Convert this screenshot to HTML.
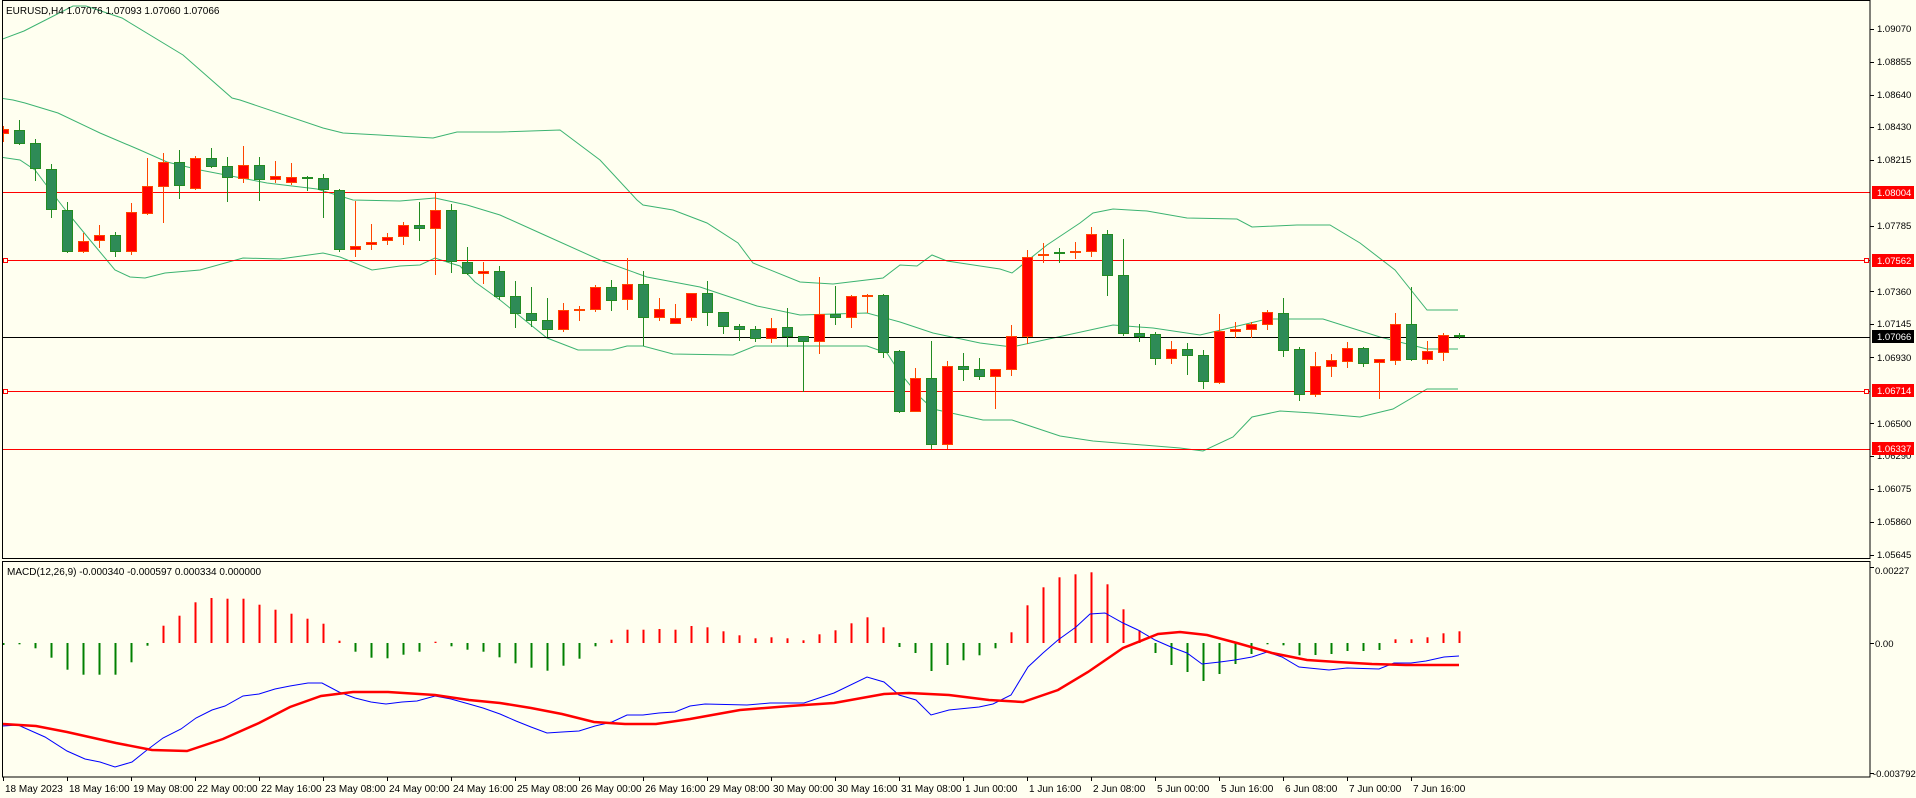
<!DOCTYPE html>
<html><head><meta charset="utf-8"><style>
html,body{margin:0;padding:0;background:#fffff0;}
svg{display:block;}
text{font-family:"Liberation Sans",sans-serif;font-size:10px;fill:#000;}
text.r{font-size:9.5px;}
</style></head><body>
<svg id="s" width="1916" height="798" viewBox="0 0 1916 798" xmlns="http://www.w3.org/2000/svg">
<rect width="1916" height="798" fill="#fffff0"/>
<defs><clipPath id="cm"><rect x="3" y="1" width="1867" height="557"/></clipPath>
<clipPath id="cd"><rect x="3" y="562" width="1867" height="215"/></clipPath></defs>
<g id="main" clip-path="url(#cm)"></g>
<g id="macd" clip-path="url(#cd)"></g>
<rect x="2.5" y="0.5" width="1867.5" height="558" fill="none" stroke="#000" stroke-width="1"/>
<rect x="2.5" y="561.5" width="1867.5" height="215.5" fill="none" stroke="#000" stroke-width="1"/>
<g id="ticks" stroke="#000" stroke-width="1"></g>
<text x="6" y="14">EURUSD,H4  1.07076 1.07093 1.07060 1.07066</text>
<text x="7" y="575">MACD(12,26,9) -0.000340 -0.000597 0.000334 0.000000</text>
<g>
<text class="r" x="1877" y="32">1.09070</text>
<text class="r" x="1877" y="65">1.08855</text>
<text class="r" x="1877" y="98">1.08640</text>
<text class="r" x="1877" y="130">1.08430</text>
<text class="r" x="1877" y="163">1.08215</text>
<text class="r" x="1877" y="229">1.07785</text>
<text class="r" x="1877" y="295">1.07360</text>
<text class="r" x="1877" y="327">1.07145</text>
<text class="r" x="1877" y="361">1.06930</text>
<text class="r" x="1877" y="427">1.06500</text>
<text class="r" x="1877" y="459">1.06290</text>
<text class="r" x="1877" y="492">1.06075</text>
<text class="r" x="1877" y="525">1.05860</text>
<text class="r" x="1877" y="558">1.05645</text>
<rect x="1872" y="186" width="42" height="13" fill="#ff0000"/><text class="r" x="1877" y="196" style="fill:#fff">1.08004</text>
<rect x="1872" y="254" width="42" height="13" fill="#ff0000"/><text class="r" x="1877" y="264" style="fill:#fff">1.07562</text>
<rect x="1872" y="330" width="42" height="13" fill="#000"/><text class="r" x="1877" y="340" style="fill:#fff">1.07066</text>
<rect x="1872" y="384" width="42" height="13" fill="#ff0000"/><text class="r" x="1877" y="394" style="fill:#fff">1.06714</text>
<rect x="1872" y="442" width="42" height="13" fill="#ff0000"/><text class="r" x="1877" y="452" style="fill:#fff">1.06337</text>
<text class="r" x="1875" y="574">0.00227</text>
<text class="r" x="1875" y="647">0.00</text>
<text class="r" x="1873" y="777">-0.003792</text>
</g>
<g>
<text x="5" y="792">18 May 2023</text>
<text x="69" y="792">18 May 16:00</text>
<text x="133" y="792">19 May 08:00</text>
<text x="197" y="792">22 May 00:00</text>
<text x="261" y="792">22 May 16:00</text>
<text x="325" y="792">23 May 08:00</text>
<text x="389" y="792">24 May 00:00</text>
<text x="453" y="792">24 May 16:00</text>
<text x="517" y="792">25 May 08:00</text>
<text x="581" y="792">26 May 00:00</text>
<text x="645" y="792">26 May 16:00</text>
<text x="709" y="792">29 May 08:00</text>
<text x="773" y="792">30 May 00:00</text>
<text x="837" y="792">30 May 16:00</text>
<text x="901" y="792">31 May 08:00</text>
<text x="965" y="792">1 Jun 00:00</text>
<text x="1029" y="792">1 Jun 16:00</text>
<text x="1093" y="792">2 Jun 08:00</text>
<text x="1157" y="792">5 Jun 00:00</text>
<text x="1221" y="792">5 Jun 16:00</text>
<text x="1285" y="792">6 Jun 08:00</text>
<text x="1349" y="792">7 Jun 00:00</text>
<text x="1413" y="792">7 Jun 16:00</text>
</g>
</svg>
<script>
var NS="http://www.w3.org/2000/svg";
function el(p,t,a){var e=document.createElementNS(NS,t);for(var k in a)e.setAttribute(k,a[k]);p.appendChild(e);return e;}
var M=document.getElementById("main"),D=document.getElementById("macd"),T=document.getElementById("ticks");
function X(i){return 3.3+16*i;}
function pl(g,pts,c,w){el(g,"polyline",{points:pts,fill:"none",stroke:c,"stroke-width":w});}
var up="0,40 24,31 73,6 86,6 122,18 183,55 232,98 240,100 323,128 343,133 433,138 457,132 500,132 560,130 600,160 637,200 643,205 673,210 707,223 738,243 753,263 800,282 833,284 883,278 900,265 917,266 932,255 947,261 1000,269 1012,273 1047,245 1080,223 1093,213 1113,209 1147,211 1187,218 1237,219 1252,227 1297,225 1330,225 1360,243 1395,270 1427,310 1458,310";
var mid="0,98 13,100 25,103 58,113 100,133 140,150 167,162 200,170 267,183 317,189 353,200 400,201 435,198 467,205 500,215 540,233 600,260 647,277 700,287 757,306 800,315 867,313 900,322 933,333 980,343 1012,347 1058,337 1113,325 1153,328 1200,335 1267,319 1323,319 1380,337 1427,349 1458,349";
var lo="0,157 20,160 35,170 50,190 67,212 90,240 115,270 130,277 145,278 165,273 200,270 243,258 280,259 323,253 340,257 372,270 400,266 420,265 435,258 450,263 460,266 475,282 500,300 547,338 578,350 612,350 627,346 643,346 673,354 733,355 755,346 867,346 887,353 900,373 920,397 933,409 983,420 1012,420 1060,436 1093,441 1180,448 1203,451 1233,437 1252,417 1280,411 1313,413 1360,417 1393,409 1427,389 1458,389";
pl(M,up,"#3cb371",1);pl(M,mid,"#3cb371",1);pl(M,lo,"#3cb371",1);
[[192.5,"#ff0000"],[260.5,"#ff0000"],[391.5,"#ff0000"],[449.5,"#ff0000"],[337.5,"#000"]].forEach(function(h){el(M,"line",{x1:0,x2:1870,y1:h[0],y2:h[0],stroke:h[1],"stroke-width":1});});
[260.5,391.5].forEach(function(y){el(M,"rect",{x:3.5,y:y-2,width:4,height:4,fill:"#fffff0",stroke:"#ff0000"});el(M,"rect",{x:1864.5,y:y-2,width:4,height:4,fill:"#fffff0",stroke:"#ff0000"});});
var C=[[134,129,126,142],[130,144,120,145],[143,169,139,181],[169,210,164,218],[210,252,202,253],[252,241,233,253],[241,235,225,248],[235,252,232,257],[252,212,203,255],[214,186,158,215],[187,162,153,223],[162,186,150,199],[189,158,156,190],[158,167,148,168],[166,178,157,202],[179,165,146,183],[165,180,157,201],[180,176,161,183],[183,177,163,185],[177,179,176,191],[178,190,174,218],[190,250,189,252],[250,246,201,257],[245,242,224,250],[241,237,233,245],[237,225,222,245],[225,229,202,241],[229,210,193,275],[210,262,204,273],[262,274,247,275],[274,271,262,284],[271,297,266,300],[296,314,281,328],[313,321,287,327],[320,330,298,337],[330,310,303,332],[310,310,306,321],[310,287,285,312],[287,301,280,311],[300,284,258,310],[284,318,271,346],[318,309,298,321],[324,318,304,324],[318,293,293,321],[293,313,281,326],[312,327,312,334],[326,330,324,341],[329,339,326,342],[339,328,318,343],[327,337,308,347],[336,342,336,392],[342,314,277,354],[314,318,286,325],[318,296,295,328],[297,295,294,313],[295,353,294,358],[351,412,350,413],[412,378,368,412],[378,445,341,449],[445,366,361,449],[366,370,353,381],[369,377,358,380],[377,369,369,409],[370,336,325,376],[337,257,250,344],[256,254,243,263],[253,254,248,263],[253,251,242,259],[252,234,227,257],[234,276,230,296],[275,334,239,336],[333,337,324,342],[334,359,332,365],[359,349,341,364],[349,356,343,375],[355,382,350,389],[383,331,314,384],[332,329,322,338],[330,324,322,338],[325,312,310,330],[313,351,298,357],[349,395,347,401],[395,366,352,397],[367,360,354,377],[362,348,342,368],[348,364,347,367],[363,359,359,399],[361,324,313,365],[324,360,287,361],[360,351,341,364],[353,335,333,361],[336,337,333,339]];
C.forEach(function(c,i){var x=Math.round(X(i));var bull=c[1]<c[0]||(c[1]==c[0]&&i==36);var fc=bull?"#ff0000":"#2e8b57",sc=bull?"#ff4500":"#228b22";
el(M,"line",{x1:x+0.5,x2:x+0.5,y1:c[2],y2:c[3],stroke:sc,"stroke-width":1});
var t=Math.min(c[0],c[1]),b=Math.max(c[0],c[1]);
if(b-t<2){el(M,"rect",{x:x-5,y:t-1,width:11,height:2,fill:sc});}
else el(M,"rect",{x:x-4.5,y:t+0.5,width:10,height:b-t-1,fill:fc,stroke:sc,"stroke-width":1});});
var H=[-2,-1.3,-5.3,-14.7,-26.7,-31.7,-31.7,-31.7,-19.3,-2.7,17.3,27.3,40.7,45,44.3,44.3,38.3,33.3,29.3,24.3,19.3,2.3,-8.7,-14.7,-15.3,-11.7,-8.7,1.3,-3.3,-6.7,-8.7,-14.3,-20.3,-24.7,-27.7,-22.7,-15.7,-3.3,3.3,13.3,13.3,14,13.3,17,15.7,11.7,7.7,4.7,5.7,4.7,2.7,8.7,12.7,19.7,25.7,15.7,-4,-10,-28,-22,-17.3,-12.3,-5.3,10.7,37.7,55.7,65.7,68.7,70.7,58.7,33.7,12.7,-10,-22,-29,-38,-31,-21,-11,-1.3,-2.3,-12.3,-12,-11,-8,-8,-7,3.7,3.7,5.7,9.7,11.7];
var Z=643;
H.forEach(function(h,i){var x=Math.round(X(i))+0.5;var red=h>0;el(D,"line",{x1:x,x2:x,y1:Z,y2:Z-h,stroke:red?"#ff0000":"#008000","stroke-width":2});});
var blue="3,726 18,725 45,737 67,751 85,759 100,762 115,767 132,762 147,750 163,738 181,729 196,718 212,710 225,706 243,696 259,694 275,689 290,686 308,683 322,683 339,692 355,698 371,702 386,704 402,702 417,701 435,696 451,699 469,704 483,708 500,714 516,721 531,727 547,733 562,732 579,731 595,726 612,722 627,715 643,715 659,713 675,712 690,706 705,704 747,705 770,703 804,703 834,693 867,677 884,682 899,695 916,700 931,715 949,710 979,707 993,704 1011,695 1028,667 1043,653 1058,640 1076,627 1090,614 1105,613 1123,623 1138,630 1155,640 1171,647 1187,653 1202,664 1220,662 1235,660 1252,657 1267,652 1282,657 1299,667 1329,670 1347,668 1379,669 1394,663 1411,663 1426,661 1444,657 1459,656";
var sig="3,724 36,726 67,732 116,743 152,750 187,751 223,739 259,723 290,707 321,696 353,692 388,692 435,695 469,700 500,703 531,708 562,714 594,722 625,724 656,724 690,719 740,710 790,706 834,703 884,694 909,693 949,695 989,700 1023,702 1058,690 1088,672 1123,648 1158,634 1180,632 1207,635 1237,643 1272,653 1307,660 1337,662 1372,664 1406,665 1441,665 1459,665";
pl(D,blue,"#0000ff",1);pl(D,sig,"#ff0000",2.5);
[28.6,61.6,94.6,126.9,159.9,225.9,291.2,324.2,357.2,423.3,455.5,488.5,521.5,554.5,567,643,773].forEach(function(y){el(T,"line",{x1:1870,x2:1874,y1:Math.round(y)+0.5,y2:Math.round(y)+0.5});});
for(var k=0;k<23;k++){var x=Math.round(X(4*k))+0.5;el(T,"line",{x1:x,x2:x,y1:777,y2:781});}
</script>
</body></html>
